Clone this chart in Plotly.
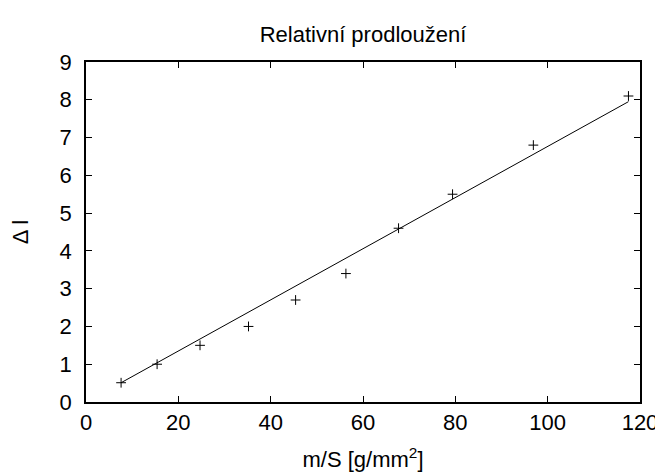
import plotly.graph_objects as go

# data
ms = [7.6, 15.4, 24.7, 35.2, 45.4, 56.3, 67.7, 79.4, 96.9, 117.5]
dl = [0.51, 1.0, 1.5, 2.0, 2.7, 3.4, 4.6, 5.5, 6.8, 8.1]
fit_x = [7.6, 117.5]
fit_y = [0.51, 7.95]

x_ticks = [0, 20, 40, 60, 80, 100, 120]
y_ticks = [0, 1, 2, 3, 4, 5, 6, 7, 8, 9]

FONT = "Liberation Sans, Arial, sans-serif"
FS = 22

fig = go.Figure()
fig.add_trace(go.Scatter(
    x=ms, y=dl, mode="markers",
    marker=dict(symbol="cross-thin", size=7, line=dict(color="black", width=1), color="black"),
    showlegend=False))
fig.add_trace(go.Scatter(
    x=fit_x, y=fit_y, mode="lines",
    line=dict(color="black", width=1),
    showlegend=False))

fig.update_layout(
    width=655, height=464,
    margin=dict(l=78, r=23, t=54, b=70),
    paper_bgcolor="white", plot_bgcolor="white",
    font=dict(family=FONT, size=FS, color="black"),
    title=dict(text="Relativní prodloužení", x=0.5, xanchor="center", y=0.944, yanchor="middle",
               xref="paper", font=dict(family=FONT, size=FS, color="black")),
)
fig.update_xaxes(
    range=[0, 120], tickvals=x_ticks, ticks="inside", ticklen=6, tickwidth=1, tickcolor="black",
    showline=True, linecolor="black", linewidth=1.5, mirror="ticks", showgrid=False, zeroline=False,
    automargin=False,
    title=dict(text="m/S [g/mm<sup>2</sup>]", standoff=20, font=dict(family=FONT, size=FS)),
    tickfont=dict(family=FONT, size=FS))
fig.update_yaxes(
    range=[0, 9], tickvals=y_ticks, ticks="inside", ticklen=6, tickwidth=1, tickcolor="black",
    showline=True, linecolor="black", linewidth=1.5, mirror="ticks", showgrid=False, zeroline=False,
    automargin=False, ticklabelstandoff=8,
    title=dict(text="Δ l", standoff=36, font=dict(family=FONT, size=FS)),
    tickfont=dict(family=FONT, size=FS))

fig.write_html("out.html")
